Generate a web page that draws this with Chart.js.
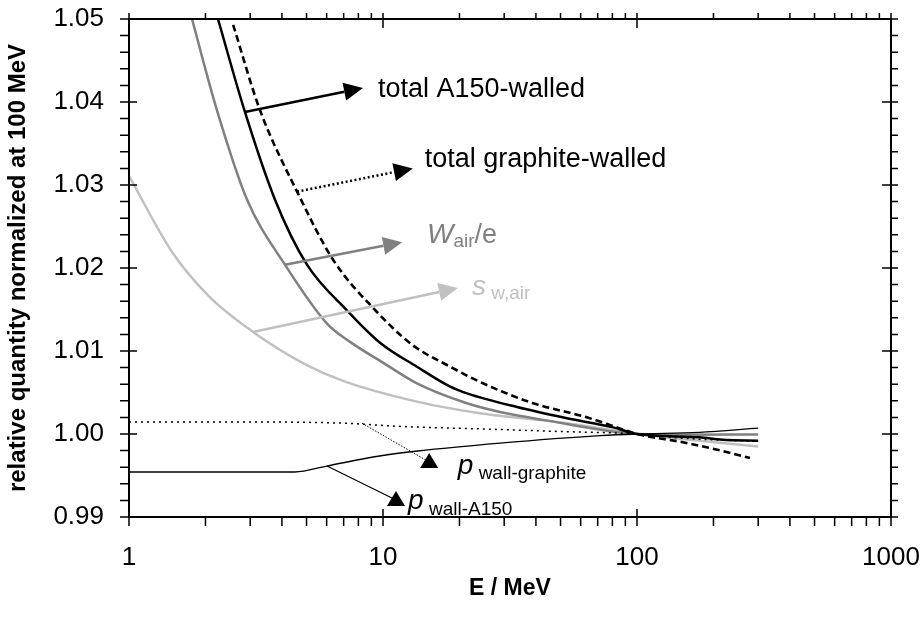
<!DOCTYPE html>
<html lang="en">
<head>
<meta charset="utf-8">
<title>Relative quantity normalized at 100 MeV</title>
<script src="https://cdn.jsdelivr.net/npm/chart.js"></script>
<style>
    html, body { margin: 0; padding: 0; background: #fff; }
    .wrap { width: 923px; height: 620px; }
</style>
</head>
<body>
<div class="wrap"><canvas id="chart" width="923" height="620"></canvas></div>
<script>
// tick labels
const xTicks = [1, 10, 100, 1000];
const yMin = 0.99, yMax = 1.05, yStep = 0.01;

// s_w,air (light gray)
const swAirE = [1, 1.48, 2.08, 3.08, 4.84, 6.96, 13.6, 24.1, 53, 100, 150, 300];
const swAirV = [1.0311, 1.0219, 1.0165, 1.0123, 1.00855, 1.0064, 1.0039, 1.0025, 1.0013, 1.0, 0.9994, 0.9985];

// W_air/e (mid gray)
const wAirE = [1.77, 2.22, 2.92, 4.11, 6.02, 7.42, 10, 13.6, 21.4, 28.9, 42.7, 100, 150, 300];
const wAirV = [1.05, 1.039, 1.0282, 1.0204, 1.0133, 1.0111, 1.0086, 1.0061, 1.0037, 1.00265, 1.0017, 1.0, 0.9999, 0.99995];

// total A150-walled (black solid)
const a150E = [2.24, 2.86, 3.76, 5.02, 7.21, 9.73, 13.6, 18.4, 21.4, 33.7, 53, 80.5, 100, 176, 217, 300];
const a150V = [1.05, 1.0388, 1.0282, 1.0204, 1.0149, 1.011, 1.0081, 1.0057, 1.0049, 1.00325, 1.0019, 1.0008, 1.0, 0.9996, 0.9993, 0.9992];

// total graphite-walled (black dashed)
const graphE = [2.57, 3.28, 4.59, 6.36, 9.47, 13.1, 18.4, 24, 39, 62, 83.4, 100, 151.7, 207, 278.6];
const graphV = [1.0493, 1.039, 1.0292, 1.021, 1.0147, 1.0107, 1.0081, 1.0063, 1.0037, 1.0021, 1.0008, 1.0, 0.999, 0.9981, 0.9971];

// p wall-graphite (black dotted)
const pGraphE = [1, 3, 7, 12, 25, 50, 100, 150, 300];
const pGraphV = [1.00145, 1.00145, 1.0013, 1.0009, 1.0006, 1.0003, 1.0, 0.9995, 0.9991];

// p wall-A150 (thin black)
const pA150E = [1, 4.5, 6.0, 9.7, 13.7, 28.9, 71.5, 100, 176, 300];
const pA150V = [0.99542, 0.99542, 0.99614, 0.99735, 0.99795, 0.9989, 0.9998, 1.0, 1.0002, 1.0007];

const FONT = "'Liberation Sans', Arial, sans-serif";

function pts(xs, ys) {
    return xs.map((x, i) => ({ x: x, y: ys[i] }));
}

function series(xs, ys, color, width, dash) {
    return {
        data: pts(xs, ys),
        borderColor: color,
        borderWidth: width,
        borderDash: dash || [],
        pointRadius: 0,
        fill: false,
        cubicInterpolationMode: 'monotone'
    };
}

// annotation arrows and labels, placed in data coordinates
const arrows = [
    { from: [2.86, 1.0388], to: [8.34, 1.0417], color: '#000', width: 2.5, dash: [] },
    { from: [4.59, 1.0292], to: [13.1, 1.0320], color: '#000', width: 2.5, dash: [2, 2.5] },
    { from: [4.11, 1.0204], to: [11.9, 1.0231], color: '#808080', width: 2.5, dash: [] },
    { from: [3.08, 1.0123], to: [19.7, 1.0176], color: '#c0c0c0', width: 2.5, dash: [] }
];
const pointers = [
    { from: [8.27, 1.0013], to: [15.2, 0.99663], width: 1, dash: [1.5, 1.5] },
    { from: [6.02, 0.99614], to: [11.25, 0.99205], width: 1.3, dash: [] }
];
const labels = [
    { at: [9.55, 1.0406], color: '#000', parts: [{ t: 'total A150-walled', size: 27 }] },
    { at: [14.6, 1.03217], color: '#000', parts: [{ t: 'total graphite-walled', size: 27 }] },
    { at: [14.9, 1.0230], color: '#808080', parts: [{ t: 'W', size: 28, italic: true }, { t: 'air', size: 19, dy: 4 }, { t: '/e', size: 27 }] },
    { at: [22.4, 1.01675], color: '#c0c0c0', parts: [{ t: 's', size: 28, italic: true }, { t: ' w,air', size: 19, dy: 4 }] },
    { at: [19.7, 0.99518], color: '#000', parts: [{ t: 'p', size: 28, italic: true }, { t: ' wall-graphite', size: 19, dy: 5 }] },
    { at: [12.55, 0.99096], color: '#000', parts: [{ t: 'p', size: 28, italic: true }, { t: ' wall-A150', size: 19, dy: 6 }] }
];

const overlay = {
    id: 'overlay',
    afterDatasetsDraw(chart) {
        const { ctx, chartArea: a, scales: { x, y } } = chart;
        const px = v => x.getPixelForValue(v);
        const py = v => y.getPixelForValue(v);
        ctx.save();

        // frame
        ctx.strokeStyle = '#000';
        ctx.lineWidth = 2;
        ctx.strokeRect(a.left, a.top, a.right - a.left, a.bottom - a.top);

        // ticks
        ctx.lineWidth = 1.5;
        ctx.beginPath();
        for (let k = 0; k < 3; k++) {
            for (let m = 1; m < 10; m++) {
                const X = px(m * Math.pow(10, k));
                const major = m === 1;
                ctx.moveTo(X, a.bottom - (major ? 8 : 0)); ctx.lineTo(X, a.bottom + 9);
                ctx.moveTo(X, a.top + (major ? 9 : 0)); ctx.lineTo(X, a.top - 6);
            }
        }
        const X1000 = px(1000);
        ctx.moveTo(X1000, a.bottom); ctx.lineTo(X1000, a.bottom + 9);
        ctx.moveTo(X1000, a.top); ctx.lineTo(X1000, a.top - 6);
        for (let i = 0; i <= 30; i++) {
            const Y = py(yMin + i * 0.002);
            const major = i % 5 === 0;
            ctx.moveTo(a.left + (major ? 8 : 0), Y); ctx.lineTo(a.left - 9, Y);
            ctx.moveTo(a.right - (major ? 9 : 0), Y); ctx.lineTo(a.right + 7, Y);
        }
        ctx.stroke();

        // arrows with heads
        arrows.forEach(ar => {
            const x0 = px(ar.from[0]), y0 = py(ar.from[1]);
            const x1 = px(ar.to[0]), y1 = py(ar.to[1]);
            const ang = Math.atan2(y1 - y0, x1 - x0);
            const len = 19, hw = 9;
            const bx = x1 - len * Math.cos(ang), by = y1 - len * Math.sin(ang);
            ctx.strokeStyle = ar.color;
            ctx.fillStyle = ar.color;
            ctx.lineWidth = ar.width;
            ctx.setLineDash(ar.dash);
            ctx.beginPath();
            ctx.moveTo(x0, y0);
            ctx.lineTo(bx, by);
            ctx.stroke();
            ctx.setLineDash([]);
            ctx.beginPath();
            ctx.moveTo(x1, y1);
            ctx.lineTo(bx + hw * Math.sin(ang), by - hw * Math.cos(ang));
            ctx.lineTo(bx - hw * Math.sin(ang), by + hw * Math.cos(ang));
            ctx.closePath();
            ctx.fill();
        });

        // leader lines ending in triangle markers
        pointers.forEach(p => {
            const x0 = px(p.from[0]), y0 = py(p.from[1]);
            const x1 = px(p.to[0]), y1 = py(p.to[1]);
            ctx.strokeStyle = '#000';
            ctx.fillStyle = '#000';
            ctx.lineWidth = p.width;
            ctx.setLineDash(p.dash);
            ctx.beginPath();
            ctx.moveTo(x0, y0);
            ctx.lineTo(x1, y1);
            ctx.stroke();
            ctx.setLineDash([]);
            ctx.beginPath();
            ctx.moveTo(x1, y1 - 9);
            ctx.lineTo(x1 + 9, y1 + 6);
            ctx.lineTo(x1 - 9, y1 + 6);
            ctx.closePath();
            ctx.fill();
        });

        // labels
        ctx.textBaseline = 'alphabetic';
        ctx.textAlign = 'left';
        labels.forEach(l => {
            let X = px(l.at[0]);
            const Y = py(l.at[1]);
            ctx.fillStyle = l.color;
            l.parts.forEach(part => {
                ctx.font = (part.italic ? 'italic ' : '') + part.size + 'px ' + FONT;
                ctx.fillText(part.t, X, Y + (part.dy || 0));
                X += ctx.measureText(part.t).width;
            });
        });

        ctx.restore();
    }
};

new Chart(document.getElementById('chart'), {
    type: 'line',
    data: {
        datasets: [
            series(pA150E, pA150V, '#000', 1.3),
            series(pGraphE, pGraphV, '#000', 1.5, [2, 4]),
            series(graphE, graphV, '#000', 2.6, [7, 4]),
            series(a150E, a150V, '#000', 2.5),
            series(wAirE, wAirV, '#808080', 2.5),
            series(swAirE, swAirV, '#c0c0c0', 2.5)
        ]
    },
    options: {
        responsive: false,
        animation: false,
        layout: { padding: { top: 19, right: 32, left: 0, bottom: 0 } },
        plugins: {
            legend: { display: false },
            tooltip: { enabled: false }
        },
        scales: {
            x: {
                type: 'logarithmic',
                min: 1,
                max: 1000,
                afterBuildTicks: s => { s.ticks = xTicks.map(v => ({ value: v })); },
                afterFit: s => { s.height = 103; s.paddingLeft = 0; s.paddingRight = 0; },
                grid: { display: false, drawTicks: false },
                border: { display: false },
                ticks: {
                    autoSkip: false,
                    maxRotation: 0,
                    padding: 25,
                    color: '#000',
                    font: { family: FONT, size: 26 },
                    callback: v => String(v)
                },
                title: {
                    display: true,
                    text: 'E / MeV',
                    color: '#000',
                    font: { family: FONT, size: 23, weight: 'bold' },
                    padding: { top: 0, bottom: 18 }
                }
            },
            y: {
                min: yMin,
                max: yMax,
                afterFit: s => { s.width = 129; s.paddingTop = 0; s.paddingBottom = 0; },
                grid: { display: false, drawTicks: false },
                border: { display: false },
                ticks: {
                    stepSize: yStep,
                    padding: 25,
                    color: '#000',
                    font: { family: FONT, size: 26 },
                    callback: v => v.toFixed(2)
                },
                title: {
                    display: true,
                    text: 'relative quantity normalized at 100 MeV',
                    color: '#000',
                    font: { family: FONT, size: 24, weight: 'bold' },
                    padding: { top: 4, bottom: 0 }
                }
            }
        }
    },
    plugins: [overlay]
});
</script>
</body>
</html>
